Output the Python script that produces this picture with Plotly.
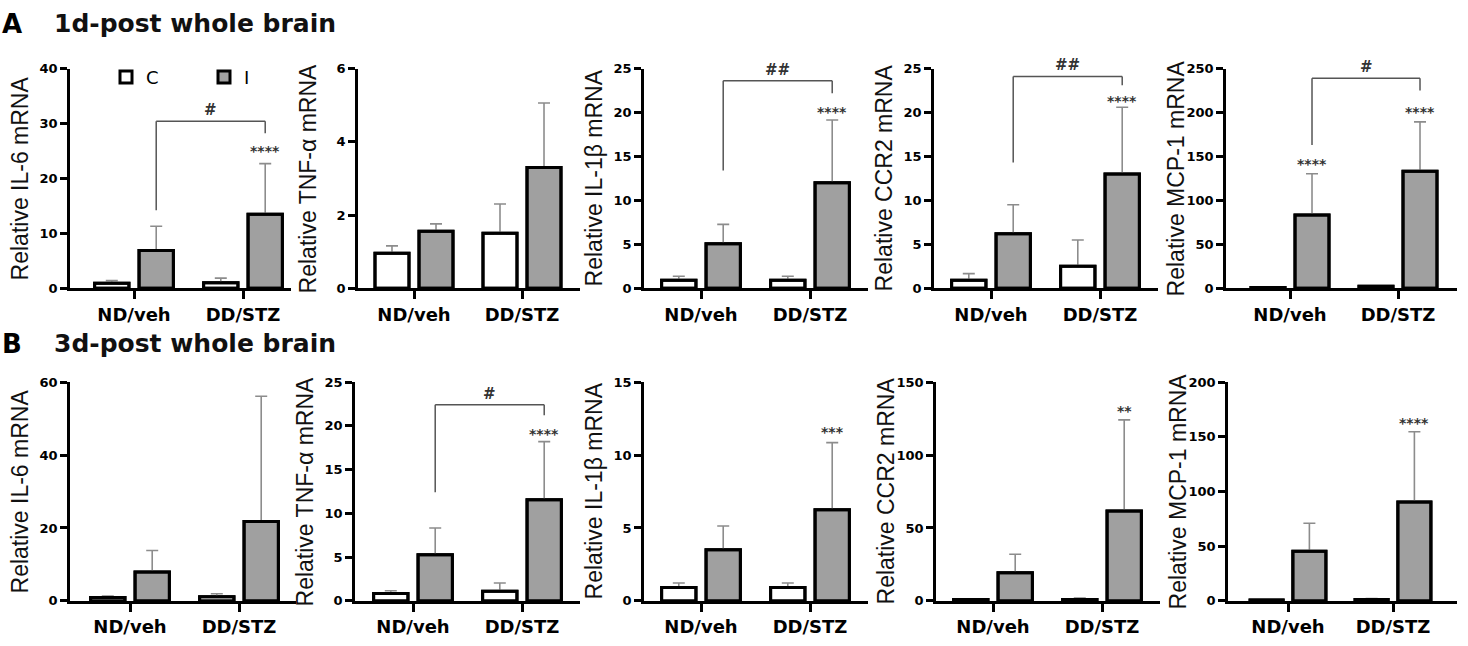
import plotly.graph_objects as go

W, H = 1468, 646

groups = ['ND/veh', 'DD/STZ']
genes = ['IL-6', 'TNF-α', 'IL-1β', 'CCR2', 'MCP-1']
series = ['C', 'I']

# 1d-post whole brain, per gene: [ND/veh, DD/STZ]
d1_c_mean = [[0.9, 1.0], [0.96, 1.5], [0.93, 0.93], [0.93, 2.5], [1.0, 2.4]]
d1_c_sd = [[0.5, 0.85], [0.2, 0.8], [0.44, 0.44], [0.74, 3.0], [0.3, 0.5]]
d1_i_mean = [[6.9, 13.5], [1.56, 3.3], [5.07, 12.0], [6.2, 13.0], [83.3, 133.3]]
d1_i_sd = [[4.4, 9.2], [0.2, 1.76], [2.2, 7.15], [3.3, 7.6], [47.1, 56.0]]
d1_ymax = [40, 6, 25, 25, 250]
d1_dtick = [10, 2, 5, 5, 50]
d1_stars = [[None, '****'], [None, None], [None, '****'], [None, '****'], ['****', '****']]
d1_star_y = [[None, 25.6], [None, None], [None, 20.4], [None, 21.7], [144.4, 203.7]]
# bracket: label, left foot, top, right foot
d1_brackets = [('#', 14.2, 30.4, 28.2), None, ('##', 13.4, 23.6, 22.2),
               ('##', 14.3, 24.1, 23.1), ('#', 163, 239, 225)]

# 3d-post whole brain
d3_c_mean = [[0.9, 1.15], [0.85, 1.11], [0.91, 0.91], [0.9, 1.0], [0.8, 1.2]]
d3_c_sd = [[0.4, 0.8], [0.3, 0.93], [0.32, 0.32], [0.4, 1.0], [0.3, 0.9]]
d3_i_mean = [[7.9, 21.8], [5.27, 11.55], [3.5, 6.24], [19.2, 61.7], [45.4, 90.3]]
d3_i_sd = [[5.9, 34.3], [3.05, 6.65], [1.63, 4.61], [12.8, 62.4], [25.5, 64.3]]
d3_ymax = [60, 25, 15, 150, 200]
d3_dtick = [20, 5, 5, 50, 50]
d3_stars = [[None, None], [None, '****'], [None, '***'], [None, '**'], [None, '****']]
d3_star_y = [[None, None], [None, 19.4], [None, 11.8], [None, 132], [None, 165.6]]
d3_brackets = [None, ('#', 12.4, 22.4, 21.2), None, None, None]

# panel geometry (px)
rows_geo = [
    dict(left=[70, 358, 644, 934, 1226], nd=[134, 414, 701, 991, 1290],
         dd=[243, 522, 810, 1100, 1398], right=[291, 580, 868, 1158, 1457],
         zero=288, top=63),
    dict(left=[70, 355, 644, 936, 1228], nd=[130, 413, 701, 993, 1288],
         dd=[239, 522, 810, 1102, 1393], right=[296, 580, 868, 1160, 1457],
         zero=608, top=384),
]

BARGAP = 0.185
BARGROUPGAP = 0.227
off = (1 - BARGAP) / 4  # centre offset of the I bar from the category centre

FONT = 'DejaVu Sans'
GRAY = '#a0a0a0'

fig = go.Figure()
layout = {}
annotations = []
shapes = []

days = [
    (d1_c_mean, d1_c_sd, d1_i_mean, d1_i_sd, d1_ymax, d1_dtick, d1_stars, d1_star_y, d1_brackets),
    (d3_c_mean, d3_c_sd, d3_i_mean, d3_i_sd, d3_ymax, d3_dtick, d3_stars, d3_star_y, d3_brackets),
]

for r, (cm, cs, im, isd, ymax, dtick, stars, star_y, brackets) in enumerate(days):
    g = rows_geo[r]
    for c in range(5):
        n = r * 5 + c + 1
        xa, ya = f'x{n}', f'y{n}'
        unit = g['dd'][c] - g['nd'][c]
        r0 = -(g['nd'][c] - g['left'][c]) / unit
        r1 = 1 + (g['right'][c] - g['dd'][c]) / unit
        err_style = dict(type='data', symmetric=False, arrayminus=[0, 0],
                         color='#8c8c8c', thickness=1.6, width=6)
        for s, mean, sd, fill in [('C', cm[c], cs[c], 'white'), ('I', im[c], isd[c], GRAY)]:
            fig.add_trace(go.Bar(
                x=groups, y=mean, name=s, xaxis=xa, yaxis=ya, offsetgroup=s,
                marker=dict(color=fill, line=dict(color='black', width=3)),
                error_y=dict(array=sd, **err_style),
                showlegend=(n == 1), legendgroup=s, cliponaxis=False))
        # redraw the outlines on top so the lower error cap stays hidden
        for s, mean in [('C', cm[c]), ('I', im[c])]:
            fig.add_trace(go.Bar(
                x=groups, y=mean, xaxis=xa, yaxis=ya, offsetgroup=s,
                marker=dict(color='rgba(0,0,0,0)', line=dict(color='black', width=3)),
                showlegend=False, hoverinfo='skip', cliponaxis=False))

        y0 = 1 - g['zero'] / H
        y1 = 1 - g['top'] / H
        layout[f'xaxis{n}'] = dict(
            domain=[g['left'][c] / W, g['right'][c] / W], anchor=ya,
            type='category', range=[r0, r1], showline=True, linecolor='black',
            linewidth=2.5, ticks='outside', ticklen=8, tickwidth=2.5, tickcolor='black',
            showgrid=False, zeroline=False,
            tickfont=dict(family=FONT, size=18, color='black', weight='bold'))
        layout[f'yaxis{n}'] = dict(
            domain=[y0, y1], anchor=xa, range=[0, ymax[c]], tick0=0, dtick=dtick[c],
            showline=True, linecolor='black', linewidth=2.5, ticks='outside',
            ticklen=7, tickwidth=2.5, tickcolor='black', showgrid=False, zeroline=False,
            tickfont=dict(family=FONT, size=13, color='black', weight='bold'))

        # y-axis title
        annotations.append(dict(
            xref='paper', yref='paper', x=(g['left'][c] - 50) / W, y=(y0 + y1) / 2,
            text=f'Relative {genes[c]} mRNA', textangle=-90, showarrow=False,
            xanchor='center', yanchor='middle',
            font=dict(family='Liberation Sans', size=23, color='#111')))

        # significance stars above I bars
        for i in range(2):
            if stars[c][i]:
                annotations.append(dict(
                    xref=xa, yref=ya, x=i + off, y=star_y[c][i], text=stars[c][i],
                    showarrow=False, yanchor='middle', yshift=-3,
                    font=dict(family=FONT, size=14, color='#333', weight='bold')))

        # comparison bracket between the I bars
        b = brackets[c]
        if b:
            label, foot_l, top, foot_r = b
            line = dict(color='#555', width=1.5)
            xl, xr = 0 + off, 1 + off
            shapes.append(dict(type='line', xref=xa, yref=ya, x0=xl, x1=xl, y0=foot_l, y1=top, line=line))
            shapes.append(dict(type='line', xref=xa, yref=ya, x0=xl, x1=xr, y0=top, y1=top, line=line))
            shapes.append(dict(type='line', xref=xa, yref=ya, x0=xr, x1=xr, y0=top, y1=foot_r, line=line))
            annotations.append(dict(
                xref=xa, yref=ya, x=0.5 + off, y=top, text=label, showarrow=False,
                yanchor='bottom', yshift=0,
                font=dict(family=FONT, size=15, color='#333', weight='bold')))

# panel letters and row titles
for letter, title, ypx in [('A', '1d-post whole brain', 17), ('B', '3d-post whole brain', 345)]:
    annotations.append(dict(xref='paper', yref='paper', x=0, y=1 - ypx / H, text=letter,
                            showarrow=False, xanchor='left', yanchor='middle',
                            font=dict(family=FONT, size=26, color='black', weight='bold')))
    annotations.append(dict(xref='paper', yref='paper', x=52 / W, y=1 - ypx / H, text=title,
                            showarrow=False, xanchor='left', yanchor='middle',
                            font=dict(family=FONT, size=25, color='#111', weight='bold')))

fig.update_layout(
    width=W, height=H, margin=dict(l=0, r=0, t=0, b=0),
    paper_bgcolor='white', plot_bgcolor='white',
    barmode='group', bargap=BARGAP, bargroupgap=BARGROUPGAP,
    annotations=annotations, shapes=shapes,
    legend=dict(orientation='h', x=106 / W, y=1 - 72 / H, xanchor='left', yanchor='middle',
                font=dict(family=FONT, size=18, color='black'),
                entrywidth=53, entrywidthmode='pixels', bgcolor='rgba(0,0,0,0)'),
    **layout)

fig.write_html('out.html', config={'displayModeBar': False},
               post_script="document.body.style.margin='0';")
